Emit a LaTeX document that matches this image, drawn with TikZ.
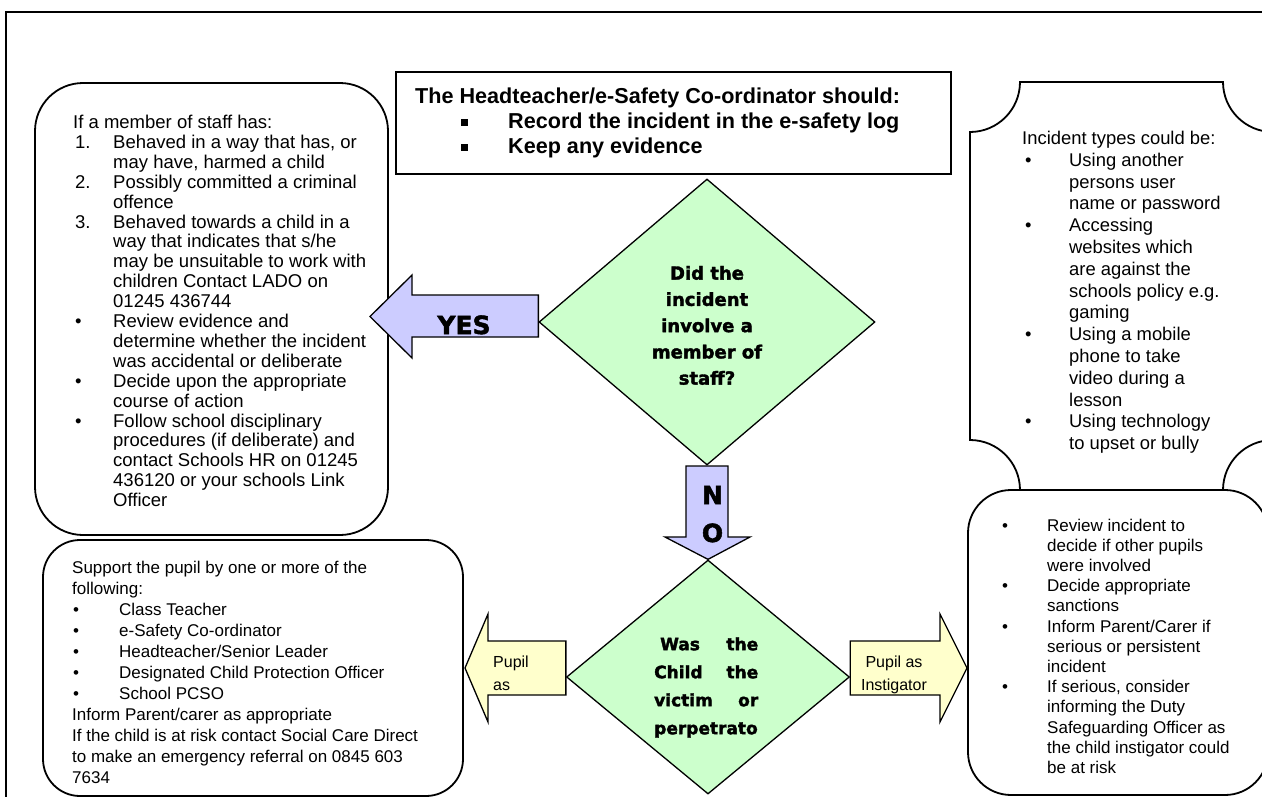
\documentclass[tikz,border=0pt]{standalone}
\usepackage{fontspec}
\setmainfont{Liberation Sans}
\newfontfamily\heavy{DejaVu Sans Bold}[FakeBold=2]
\usetikzlibrary{shapes.geometric}
\definecolor{dgreen}{HTML}{CCFFCC}
\definecolor{lav}{HTML}{CCCCFF}
\definecolor{pale}{HTML}{FFFFCC}
\newcommand{\sqb}{\rule[2.5pt]{6.5pt}{6.5pt}}
\begin{document}
\begin{tikzpicture}[x=1pt,y=-1pt,
  box/.style={draw, line width=1.8pt, fill=white},
  arrowshape/.style={draw, line width=1.3pt, line join=miter},
  diam/.style={draw, diamond, line width=1.3pt, fill=dgreen, inner sep=0pt},
  txt/.style={inner sep=0pt, anchor=base west},
  ctxt/.style={inner sep=0pt, anchor=base},
]
\useasboundingbox (0,0) rectangle (1262,796);
\clip (0,0) rectangle (1262,796);
\fill[white] (0,0) rectangle (1262,796);
% page frame
\draw[line width=1.8pt] (6,805) -- (6,12) -- (1270,12);

% top box
\draw[box, line width=1.8pt] (396,72) rectangle (951,174);
\node[txt] (head) at (415,103) {\fontsize{21.6}{25}\selectfont\bfseries
\begin{tabular}[t]{@{}p{93pt}@{}l@{}}
\multicolumn{2}{@{}l@{}}{The Headteacher/e-Safety Co-ordinator should:}\\
\hspace*{46pt}\sqb & Record the incident in the e-safety log\\
\hspace*{46pt}\sqb & Keep any evidence
\end{tabular}};

% left box (staff)
\draw[box, rounded corners=48pt] (35,83) rectangle (388,535);
\node[txt] (staff) at (73,128.5) {\fontsize{18.5}{19.9}\selectfont
\begin{tabular}[t]{@{}p{40pt}@{}l@{}}
\multicolumn{2}{@{}l@{}}{If a member of staff has:}\\
\hspace*{2pt}1. & Behaved in a way that has, or\\
 & may have, harmed a child\\
\hspace*{2pt}2. & Possibly committed a criminal\\
 & offence\\
\hspace*{2pt}3. & Behaved towards a child in a\\
 & way that indicates that s/he\\
 & may be unsuitable to work with\\
 & children Contact LADO on\\
 & 01245 436744\\
\hspace*{2pt}• & Review evidence and\\
 & determine whether the incident\\
 & was accidental or deliberate\\
\hspace*{2pt}• & Decide upon the appropriate\\
 & course of action\\
\hspace*{2pt}• & Follow school disciplinary\\
 & procedures (if deliberate) and\\
 & contact Schools HR on 01245\\
 & 436120 or your schools Link\\
 & Officer
\end{tabular}};

% bottom left box (victim support)
\draw[box, rounded corners=37pt] (43,540) rectangle (463,796);
\node[txt] (support) at (72,573) {\fontsize{17}{21}\selectfont
\begin{tabular}[t]{@{}p{47pt}@{}l@{}}
\multicolumn{2}{@{}l@{}}{Support the pupil by one or more of the}\\
\multicolumn{2}{@{}l@{}}{following:}\\
\hspace*{1pt}• & Class Teacher\\
\hspace*{1pt}• & e-Safety Co-ordinator\\
\hspace*{1pt}• & Headteacher/Senior Leader\\
\hspace*{1pt}• & Designated Child Protection Officer\\
\hspace*{1pt}• & School PCSO\\
\multicolumn{2}{@{}l@{}}{Inform Parent/carer as appropriate}\\
\multicolumn{2}{@{}l@{}}{If the child is at risk contact Social Care Direct}\\
\multicolumn{2}{@{}l@{}}{to make an emergency referral on 0845 603}\\
\multicolumn{2}{@{}l@{}}{7634}
\end{tabular}};

% scroll (incident types)
\draw[box] (970,132) .. controls (997.6,132) and (1020,109.6) .. (1020,82)
  -- (1223,82) .. controls (1223,109.6) and (1245.4,132) .. (1273,132)
  -- (1273,440) .. controls (1245.4,440) and (1223,462.4) .. (1223,490)
  -- (1020,490) .. controls (1020,462.4) and (997.6,440) .. (970,440)
  -- cycle;
\node[txt] (types) at (1022,144.5) {\fontsize{18.4}{21.8}\selectfont
\begin{tabular}[t]{@{}p{47pt}@{}l@{}}
\multicolumn{2}{@{}l@{}}{Incident types could be:}\\
\hspace*{3pt}• & Using another\\
 & persons user\\
 & name or password\\
\hspace*{3pt}• & Accessing\\
 & websites which\\
 & are against the\\
 & schools policy e.g.\\
 & gaming\\
\hspace*{3pt}• & Using a mobile\\
 & phone to take\\
 & video during a\\
 & lesson\\
\hspace*{3pt}• & Using technology\\
 & to upset or bully
\end{tabular}};

% bottom right box (instigator)
\draw[box, rounded corners=43pt] (968,490) rectangle (1268,795);
\node[txt] (instig) at (1002,531) {\fontsize{17}{20.2}\selectfont
\begin{tabular}[t]{@{}p{45pt}@{}l@{}}
• & Review incident to\\
 & decide if other pupils\\
 & were involved\\
• & Decide appropriate\\
 & sanctions\\
• & Inform Parent/Carer if\\
 & serious or persistent\\
 & incident\\
• & If serious, consider\\
 & informing the Duty\\
 & Safeguarding Officer as\\
 & the child instigator could\\
 & be at risk
\end{tabular}};

% decision diamonds
\node[diam, minimum width=336pt, minimum height=286pt] (q1) at (707,322) {};
\node[ctxt] (q1t) at (707,279.6) {\fontsize{18}{26.25}\selectfont\heavy
\begin{tabular}[t]{@{}c@{}}Did the\\ incident\\ involve a\\ member of\\ staff?\end{tabular}};

\node[diam, minimum width=283pt, minimum height=234pt] (q2) at (708,677) {};
\node[txt] (q2t) at (654,650.2) {\fontsize{17}{28}\selectfont\heavy
\begin{tabular}[t]{@{}l@{}}
\hbox to 104pt{\hspace*{6pt}Was\hfill the}\\
\hbox to 104pt{Child\hfill the}\\
\hbox to 104pt{victim\hfill or}\\
\hbox to 104pt{perpetrato\hfill}
\end{tabular}};

% YES arrow
\draw[arrowshape, fill=lav] (q1.west |- 0,295) -- (412,295) -- (412,275) -- (370,316.5)
  -- (412,358) -- (412,337) -- (q1.west |- 0,337) -- cycle;
\node[ctxt] (yes) at (464,334) {\fontsize{25}{30}\selectfont\heavy YES};

% NO arrow
\draw[arrowshape, fill=lav] (686,466) -- (728,466) -- (728,537) -- (750,537) -- (q2.north)
  -- (665,537) -- (686,537) -- cycle;
\node[ctxt] (non) at (712.5,504) {\fontsize{25}{30}\selectfont\heavy N};
\node[ctxt] (noo) at (712.5,542) {\fontsize{25}{30}\selectfont\heavy O};

% pupil arrows
\draw[arrowshape, fill=pale] (q2.west |- 0,641) -- (488,641) -- (488,614) -- (465,668)
  -- (488,722) -- (488,695) -- (q2.west |- 0,695) -- cycle;
\node[txt] (pv) at (493,667.5) {\fontsize{16}{23}\selectfont
\begin{tabular}[t]{@{}l@{}}Pupil\\ as\end{tabular}};

\draw[arrowshape, fill=pale] (q2.east |- 0,641) -- (940,641) -- (940,614) -- (967,668)
  -- (940,722) -- (940,695) -- (q2.east |- 0,695) -- cycle;
\node[ctxt] (pi) at (894,667.5) {\fontsize{16}{23}\selectfont
\begin{tabular}[t]{@{}c@{}}Pupil as\\ Instigator\end{tabular}};
\end{tikzpicture}
\end{document}
